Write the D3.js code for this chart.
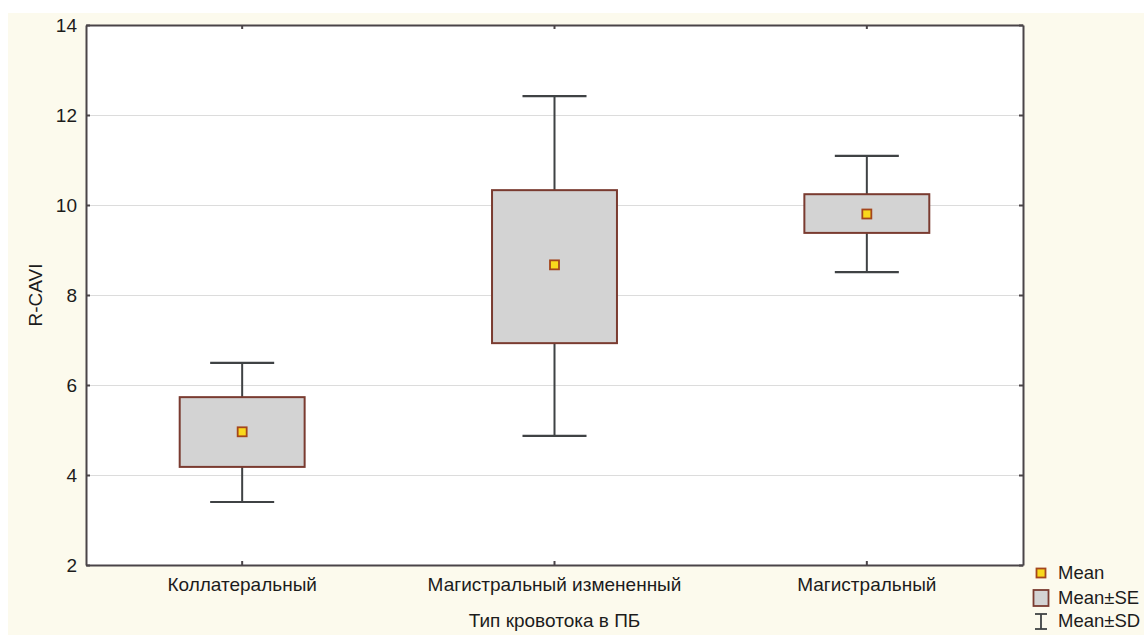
<!DOCTYPE html>
<html>
<head>
<meta charset="utf-8">
<script src="https://cdn.jsdelivr.net/npm/d3@7/dist/d3.min.js"></script>
<style>
  html, body { margin: 0; padding: 0; background: #ffffff; }
  svg { display: block; font-family: "Liberation Sans", Arial, sans-serif; }
</style>
</head>
<body>
<svg id="chart" width="1144" height="635"></svg>
<script>
// Blood-flow type groups and their R-CAVI summary statistics
const categories = ["Коллатеральный", "Магистральный измененный", "Магистральный"];
const means   = [4.96, 8.67, 9.80];
const seLow   = [4.18, 6.93, 9.38];
const seHigh  = [5.73, 10.33, 10.24];
const sdLow   = [3.40, 4.87, 8.51];
const sdHigh  = [6.49, 12.42, 11.09];
const yTicks  = [2, 4, 6, 8, 10, 12, 14];
const legendLabels = ["Mean", "Mean±SE", "Mean±SD"];

const data = categories.map((c, i) => ({
  cat: c, mean: means[i], seLo: seLow[i], seHi: seHigh[i], sdLo: sdLow[i], sdHi: sdHigh[i]
}));

const svg = d3.select("#chart");
const W = 1144, H = 635;
const m = { left: 86, top: 25, right: 1023, bottom: 565 };
const FS = 19;
const textCol = "#1c1c1c";

// panel background
svg.append("rect").attr("x", 8).attr("y", 13).attr("width", W - 8).attr("height", H - 13)
  .attr("fill", "#fcfaed");

const x = d3.scaleBand().domain(categories).range([m.left, m.right]).padding(0);
const y = d3.scaleLinear().domain([2, 14]).range([m.bottom, m.top]);

// plot area
svg.append("rect").attr("x", m.left).attr("y", m.top)
  .attr("width", m.right - m.left).attr("height", m.bottom - m.top)
  .attr("fill", "#ffffff");

// horizontal gridlines
svg.append("g").selectAll("line").data(yTicks.filter(t => t > 2 && t < 14)).join("line")
  .attr("x1", m.left).attr("x2", m.right)
  .attr("y1", d => y(d) + 0.5).attr("y2", d => y(d) + 0.5)
  .attr("stroke", "#dcdcdc").attr("stroke-width", 1.2);

// axes with inward ticks
const tickLen = 4;
const gl = svg.append("g").attr("transform", `translate(${m.left},0)`)
  .call(d3.axisLeft(y).tickValues(yTicks).tickSizeInner(-tickLen).tickSizeOuter(0).tickPadding(9));
const gr = svg.append("g").attr("transform", `translate(${m.right},0)`)
  .call(d3.axisRight(y).tickValues(yTicks).tickSizeInner(-tickLen).tickSizeOuter(0).tickFormat(""));
const gb = svg.append("g").attr("transform", `translate(0,${m.bottom})`)
  .call(d3.axisBottom(x).tickSizeInner(-tickLen).tickSizeOuter(0).tickPadding(13));
const gt = svg.append("g").attr("transform", `translate(0,${m.top})`)
  .call(d3.axisTop(x).tickSizeInner(-tickLen).tickSizeOuter(0).tickFormat(""));

[gl, gr, gb, gt].forEach(g => {
  g.select(".domain").attr("stroke", "#4a4448").attr("stroke-width", 2);
  g.selectAll(".tick line").attr("stroke", "#4a4448").attr("stroke-width", 2);
  g.selectAll(".tick text").attr("fill", textCol).attr("font-size", FS)
    .attr("font-family", "Liberation Sans, Arial, sans-serif");
});

// whiskers (mean ± SD)
const bw = x.bandwidth();
const boxW = bw * 0.4, capW = bw * 0.205;
const groups = svg.append("g").selectAll("g").data(data).join("g")
  .attr("transform", d => `translate(${x(d.cat) + bw / 2},0)`);

groups.append("line").attr("x1", 0).attr("x2", 0)
  .attr("y1", d => y(d.sdHi)).attr("y2", d => y(d.sdLo))
  .attr("stroke", "#3f4244").attr("stroke-width", 2);
groups.append("line").attr("x1", -capW / 2).attr("x2", capW / 2)
  .attr("y1", d => y(d.sdHi)).attr("y2", d => y(d.sdHi))
  .attr("stroke", "#3f4244").attr("stroke-width", 2.2);
groups.append("line").attr("x1", -capW / 2).attr("x2", capW / 2)
  .attr("y1", d => y(d.sdLo)).attr("y2", d => y(d.sdLo))
  .attr("stroke", "#3f4244").attr("stroke-width", 2.2);

// boxes (mean ± SE)
groups.append("rect").attr("x", -boxW / 2).attr("width", boxW)
  .attr("y", d => y(d.seHi)).attr("height", d => y(d.seLo) - y(d.seHi))
  .attr("fill", "#d3d3d3").attr("stroke", "#7a3b30").attr("stroke-width", 2);

// mean markers
groups.append("rect").attr("x", -4.5).attr("width", 9)
  .attr("y", d => y(d.mean) - 4.5).attr("height", 9)
  .attr("fill", "#f9d81c").attr("stroke", "#a4461c").attr("stroke-width", 1.8);

// axis titles
svg.append("text").attr("x", x(categories[1]) + bw / 2).attr("y", 627)
  .attr("text-anchor", "middle").attr("font-size", FS).attr("fill", textCol)
  .text("Тип кровотока в ПБ");
svg.append("text").attr("transform", `translate(42,${(m.top + m.bottom) / 2}) rotate(-90)`)
  .attr("text-anchor", "middle").attr("font-size", FS).attr("fill", textCol)
  .text("R-CAVI");

// legend
const lg = svg.append("g").attr("transform", "translate(1041,0)");
const ly = [573, 598, 621];
lg.append("rect").attr("x", -4.5).attr("y", ly[0] - 4.5).attr("width", 9).attr("height", 9)
  .attr("fill", "#f9d81c").attr("stroke", "#a4461c").attr("stroke-width", 1.8);
lg.append("rect").attr("x", -7.5).attr("y", ly[1] - 8).attr("width", 15).attr("height", 16)
  .attr("fill", "#d3d3d3").attr("stroke", "#7a3b30").attr("stroke-width", 1.8);
lg.append("line").attr("x1", 0).attr("x2", 0).attr("y1", ly[2] - 7).attr("y2", ly[2] + 8)
  .attr("stroke", "#3f4244").attr("stroke-width", 1.8);
lg.append("line").attr("x1", -6).attr("x2", 6).attr("y1", ly[2] - 7).attr("y2", ly[2] - 7)
  .attr("stroke", "#3f4244").attr("stroke-width", 1.8);
lg.append("line").attr("x1", -6).attr("x2", 6).attr("y1", ly[2] + 8).attr("y2", ly[2] + 8)
  .attr("stroke", "#3f4244").attr("stroke-width", 1.8);
lg.selectAll("text.lab").data(legendLabels).join("text").attr("class", "lab")
  .attr("x", 17).attr("y", (d, i) => ly[i]).attr("dy", "0.35em")
  .attr("font-size", FS - 0.5).attr("fill", textCol).text(d => d);
</script>
</body>
</html>
